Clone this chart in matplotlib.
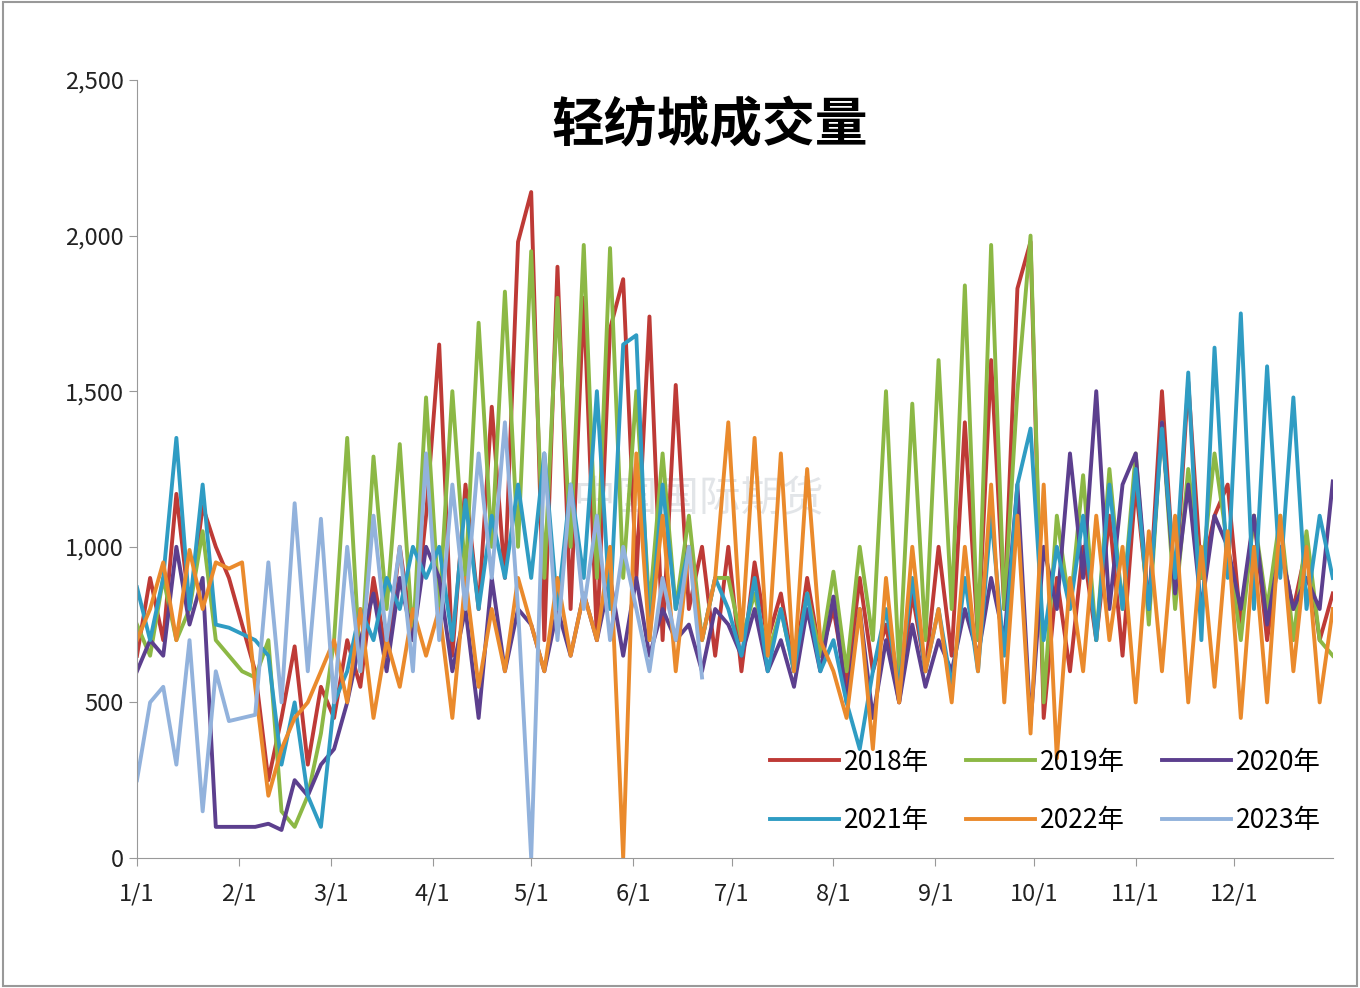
import numpy as np
import matplotlib.pyplot as plt
import matplotlib.ticker as mticker
from matplotlib.patches import Rectangle

plt.rcParams['font.family'] = ['Noto Sans CJK SC', 'DejaVu Sans']

# day-of-year sample points, every 4 days
days = np.arange(1, 366, 4)

v2018 = [650, 900, 700, 1170, 800, 1130, 1000, 900,
         750, 600, 250, 450, 680, 300, 550,
         450, 700, 550, 900, 650, 1000, 700, 1100,
         1650, 650, 1200, 800, 1450, 900, 1980,
         2140, 700, 1900, 800, 1800, 700, 1700, 1860,
         900, 1740, 700, 1520, 800, 1000, 650,
         1000, 600, 950, 700, 850, 600, 900, 650,
         800, 550, 900, 600, 750, 500, 850, 600,
         1000, 650, 1400, 700, 1600, 800, 1830,
         1980, 450, 900, 600, 1000, 700, 1100, 650,
         1200, 800, 1500, 850, 1530, 900, 1100,
         1200, 750, 1100, 700, 1000, 800, 1000, 700, 850]
v2019 = [750, 650, 900, 700, 800, 1050, 700, 650,
         600, 580, 700, 150, 100, 200, 400,
         700, 1350, 600, 1290, 800, 1330, 700, 1480,
         800, 1500, 900, 1720, 1000, 1820, 1000,
         1950, 900, 1800, 1000, 1970, 900, 1960, 900,
         1500, 800, 1300, 800, 1100, 700, 900,
         900, 700, 850, 650, 800, 600, 850, 650,
         920, 600, 1000, 700, 1500, 600, 1460, 700,
         1600, 800, 1840, 700, 1970, 800, 1500,
         2000, 500, 1100, 800, 1230, 700, 1250, 800,
         1300, 750, 1400, 800, 1250, 900, 1300,
         1000, 700, 1100, 800, 1100, 700, 1050, 700, 650]
v2020 = [600, 700, 650, 1000, 750, 900, 100, 100,
         100, 100, 110, 90, 250, 200, 300,
         350, 500, 700, 850, 600, 900, 700, 1000,
         900, 600, 800, 450, 900, 600, 800,
         750, 600, 800, 650, 850, 700, 900, 650,
         900, 650, 800, 700, 750, 600, 800,
         750, 650, 800, 600, 700, 550, 800, 600,
         840, 500, 800, 450, 700, 500, 750, 550,
         700, 600, 800, 650, 900, 700, 1200,
         430, 1000, 800, 1300, 900, 1500, 800, 1200,
         1300, 800, 1400, 850, 1200, 800, 1100,
         1000, 800, 1100, 750, 1000, 800, 900, 800, 1210]
v2021 = [870, 700, 900, 1350, 800, 1200, 750, 740,
         720, 700, 650, 300, 500, 200, 100,
         500, 600, 800, 700, 900, 800, 1000, 900,
         1000, 700, 1150, 800, 1100, 900, 1200,
         900, 1300, 800, 1200, 900, 1500, 800, 1650,
         1680, 700, 1200, 800, 1000, 700, 900,
         800, 650, 900, 600, 800, 600, 850, 600,
         700, 500, 350, 600, 800, 550, 900, 600,
         800, 550, 900, 600, 1100, 650, 1200,
         1380, 700, 1000, 800, 1100, 700, 1200, 800,
         1250, 800, 1380, 900, 1560, 700, 1640,
         900, 1750, 800, 1580, 900, 1480, 800, 1100, 900]
v2022 = [700, 800, 950, 700, 990, 800, 950, 930,
         950, 550, 200, 350, 450, 500, 600,
         700, 500, 800, 450, 700, 550, 800, 650,
         800, 450, 900, 550, 800, 600, 900,
         750, 600, 900, 650, 850, 700, 1000, 0,
         1300, 700, 1100, 600, 1000, 700, 900,
         1400, 700, 1350, 650, 1300, 600, 1250, 700,
         600, 450, 800, 350, 900, 500, 1000, 600,
         800, 500, 1000, 600, 1200, 500, 1100,
         400, 1200, 320, 900, 600, 1100, 700, 1000,
         500, 1050, 600, 1100, 500, 1000, 550,
         1050, 450, 1000, 500, 1100, 600, 1000, 500, 800]
v2023 = [250, 500, 550, 300, 700, 150, 600, 440,
         450, 460, 950, 500, 1140, 600, 1090,
         500, 1000, 600, 1100, 700, 1000, 600, 1300,
         700, 1200, 800, 1300, 900, 1400, 800,
         0, 1300, 700, 1200, 800, 1100, 700, 1000,
         800, 600, 900, 700, 1000, 580]

series = [("2018年", v2018, "#be3a36"), ("2019年", v2019, "#8cb845"),
          ("2020年", v2020, "#5c3f8e"), ("2021年", v2021, "#2f9cc3"),
          ("2022年", v2022, "#ea8a2c"), ("2023年", v2023, "#92b2dc")]

month_days = [1, 32, 60, 91, 121, 152, 182, 213, 244, 274, 305, 335]
month_labels = ["1/1", "2/1", "3/1", "4/1", "5/1", "6/1", "7/1", "8/1",
                "9/1", "10/1", "11/1", "12/1"]

fig = plt.figure(figsize=(13.6, 9.88), dpi=100)
fig.patches.append(Rectangle((0.002, 0.002), 0.996, 0.996, transform=fig.transFigure,
                             fill=False, ec="#999999", lw=1.5))
ax = fig.add_axes([0.1007, 0.1316, 0.8793, 0.7874])

lines = []
for name, vals, col in series:
    ln, = ax.plot(days[:len(vals)], vals, color=col, lw=2.8, label=name)
    lines.append(ln)

ax.set_xlim(1, 365)
ax.set_ylim(0, 2500)
ax.set_xticks(month_days)
ax.set_xticklabels(month_labels)
ax.set_yticks(np.arange(0, 2501, 500))
ax.yaxis.set_major_formatter(mticker.StrMethodFormatter("{x:,.0f}"))
ax.tick_params(labelsize=17, colors="#222222", length=6, color="#999999")
ax.tick_params(axis="x", pad=12)
for s in ["top", "right"]:
    ax.spines[s].set_visible(False)
for s in ["left", "bottom"]:
    ax.spines[s].set_color("#999999")

fig.text(0.522, 0.873, "轻纺城成交量", ha="center", va="center", fontsize=38,
         fontweight="bold")
ax.text(0.47, 0.46, "中国国际期货", transform=ax.transAxes, fontsize=30,
        color="#d0d4da", alpha=0.6, ha="center", va="center", zorder=0)

order = [0, 3, 1, 4, 2, 5]
ax.legend([lines[i] for i in order], [series[i][0] for i in order],
          loc="lower right", ncol=3, frameon=False, fontsize=19,
          bbox_to_anchor=(1.01, 0.0), handlelength=2.6, columnspacing=1.4,
          labelspacing=1.2, handletextpad=0.2)

fig.savefig("out.png", dpi=100)
